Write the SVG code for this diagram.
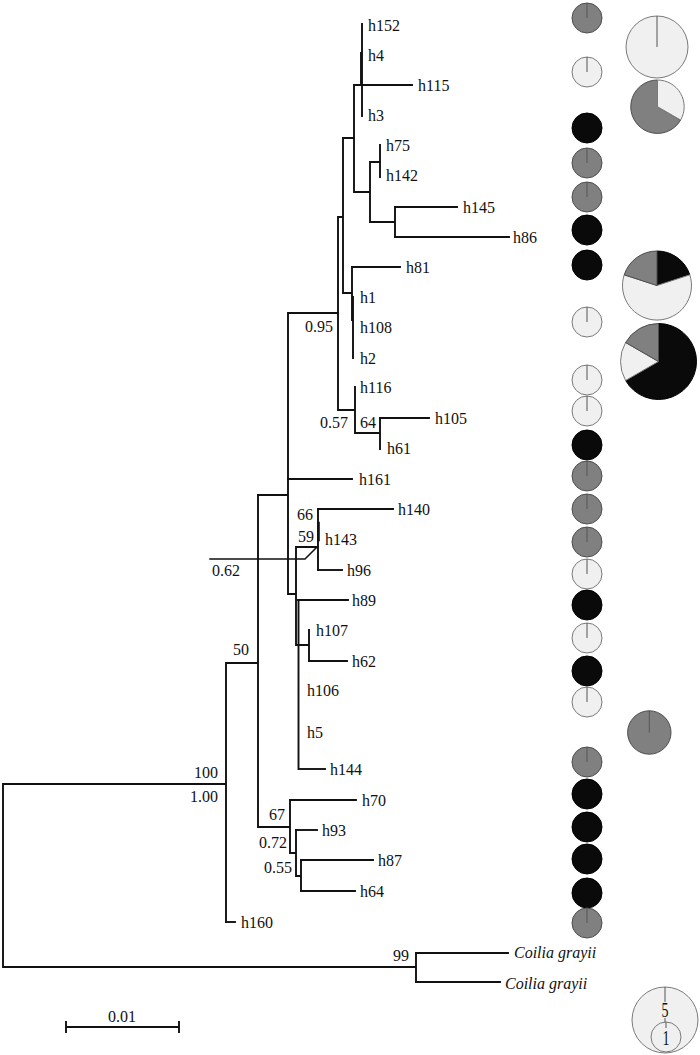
<svg xmlns="http://www.w3.org/2000/svg" width="700" height="1055" viewBox="0 0 700 1055">
<style>
.br{stroke:#111;stroke-width:1.9;fill:none;stroke-linecap:square}
.lb{font-family:"Liberation Serif","Times New Roman",serif;font-size:16px;fill:#111}
.it{font-style:italic}
.end{text-anchor:end}
.lg{font-family:"Liberation Serif","Times New Roman",serif;font-size:20px;fill:#111;text-anchor:middle}
.pg{fill:#808080;stroke:#4d4d4d;stroke-width:1}
.pl{fill:#f0f0f0;stroke:#7a7a7a;stroke-width:1}
.pk{fill:#0a0a0a;stroke:#000;stroke-width:1}
.rl{stroke:#555;stroke-width:1;fill:none}
</style>
<rect width="700" height="1055" fill="#fff"/>
<g id="connectors" class="br">
<path d="M362,24V116M361,53V85M354,85H362M354,85V192M354,192H370M370,162V222M370,162H380M380,145V177M370,222H395M395,207V237"/>
<path d="M343,138H354M343,138V293M338,217H343M338,217V410M343,293H352M352,267V320M353,297V358M338,410H355M355,387V433M355,433H380M380,418V449"/>
<path d="M288,313H338M288,313V594M258,495H288M288,594H296M296,547V645M296,547H318M318,509V570M298.5,600V769M296,645H309M309,630V661"/>
<path d="M258,495V827M226,663H258M226,663V922M3,784H226M3,784V967M3,967H416M416,953V982M258,827H290M290,800V853M290,853H296M296,830V876M296,876H301M301,860V891"/>
<path d="M318.5,523V540" stroke-width="2.6"/>
<path d="M210,559H305L317,547" stroke-width="1.5"/>
</g>
<g id="support" class="lb">
<text x="333" y="332" class="end">0.95</text>
<text x="348" y="428" class="end">0.57</text>
<text x="360" y="428">64</text>
<text x="297" y="520">66</text>
<text x="298" y="542">59</text>
<text x="212" y="576">0.62</text>
<text x="233" y="655">50</text>
<text x="218" y="778" class="end">100</text>
<text x="218" y="802" class="end">1.00</text>
<text x="285" y="820" class="end">67</text>
<text x="287" y="848" class="end">0.72</text>
<text x="292" y="873" class="end">0.55</text>
<text x="409" y="961" class="end">99</text>
</g>
<g id="h152"><text class="lb" x="368" y="30.5">h152</text></g>
<g id="h4"><text class="lb" x="368" y="60.5">h4</text></g>
<g id="h115"><path class="br" d="M362,85H412"/><text class="lb" x="418" y="90.5">h115</text></g>
<g id="h3"><text class="lb" x="368" y="120.5">h3</text></g>
<g id="h75"><text class="lb" x="386" y="150.5">h75</text></g>
<g id="h142"><text class="lb" x="386" y="180.5">h142</text></g>
<g id="h145"><path class="br" d="M395,207H457"/><text class="lb" x="463" y="212.5">h145</text></g>
<g id="h86"><path class="br" d="M395,237H509"/><text class="lb" x="513" y="242.5">h86</text></g>
<g id="h81"><path class="br" d="M352,267H400"/><text class="lb" x="406" y="272.5">h81</text></g>
<g id="h1"><text class="lb" x="360" y="302.5">h1</text></g>
<g id="h108"><text class="lb" x="360" y="332.5">h108</text></g>
<g id="h2"><text class="lb" x="360" y="363.5">h2</text></g>
<g id="h116"><text class="lb" x="360" y="392.5">h116</text></g>
<g id="h105"><path class="br" d="M380,418H429"/><text class="lb" x="435" y="423.5">h105</text></g>
<g id="h61"><text class="lb" x="387" y="453.5">h61</text></g>
<g id="h161"><path class="br" d="M288,479H352"/><text class="lb" x="359" y="484.5">h161</text></g>
<g id="h140"><path class="br" d="M318,509H393"/><text class="lb" x="398" y="514.5">h140</text></g>
<g id="h143"><text class="lb" x="325" y="544.5">h143</text></g>
<g id="h96"><path class="br" d="M318,570H342"/><text class="lb" x="347" y="575.5">h96</text></g>
<g id="h89"><path class="br" d="M298,600H348"/><text class="lb" x="352" y="605.5">h89</text></g>
<g id="h107"><text class="lb" x="316" y="635.5">h107</text></g>
<g id="h62"><path class="br" d="M309,661H347"/><text class="lb" x="352" y="666.5">h62</text></g>
<g id="h106"><text class="lb" x="307" y="695.5">h106</text></g>
<g id="h5"><text class="lb" x="307" y="737.5">h5</text></g>
<g id="h144"><path class="br" d="M300,769H325"/><text class="lb" x="330" y="774.5">h144</text></g>
<g id="h70"><path class="br" d="M290,800H356"/><text class="lb" x="362" y="805.5">h70</text></g>
<g id="h93"><path class="br" d="M296,830H317"/><text class="lb" x="322" y="835.5">h93</text></g>
<g id="h87"><path class="br" d="M301,860H373"/><text class="lb" x="378" y="865.5">h87</text></g>
<g id="h64"><path class="br" d="M301,891H355"/><text class="lb" x="360" y="896.5">h64</text></g>
<g id="h160"><path class="br" d="M226,922H235"/><text class="lb" x="241" y="927.5">h160</text></g>
<g id="coilia1"><path class="br" d="M416,953H508"/><text class="lb it" x="514" y="957.5">Coilia grayii</text></g>
<g id="coilia2"><path class="br" d="M416,982H500"/><text class="lb it" x="505" y="988.5">Coilia grayii</text></g>
<g id="scalebar"><path class="br" d="M66,1027H179M66,1022V1032M179,1022V1032"/><text class="lb" x="122" y="1021.5" text-anchor="middle">0.01</text></g>
<g id="pies-small">
<circle class="pg" cx="587" cy="18" r="15"/><path class="rl" d="M587,3V18"/>
<circle class="pl" cx="587" cy="72" r="15"/><path class="rl" d="M587,57V72"/>
<circle class="pk" cx="587" cy="128" r="15"/>
<circle class="pg" cx="587" cy="163" r="15"/><path class="rl" d="M587,148V163"/>
<circle class="pg" cx="587" cy="197" r="15"/><path class="rl" d="M587,182V197"/>
<circle class="pk" cx="587" cy="230" r="15"/>
<circle class="pk" cx="587" cy="265" r="15"/>
<circle class="pl" cx="587" cy="322" r="15"/><path class="rl" d="M587,307V322"/>
<circle class="pl" cx="587" cy="380" r="15"/><path class="rl" d="M587,365V380"/>
<circle class="pl" cx="587" cy="411" r="15"/><path class="rl" d="M587,396V411"/>
<circle class="pk" cx="587" cy="445" r="15"/>
<circle class="pg" cx="587" cy="476" r="15"/><path class="rl" d="M587,461V476"/>
<circle class="pg" cx="587" cy="509" r="15"/><path class="rl" d="M587,494V509"/>
<circle class="pg" cx="587" cy="542" r="15"/><path class="rl" d="M587,527V542"/>
<circle class="pl" cx="587" cy="574" r="15"/><path class="rl" d="M587,559V574"/>
<circle class="pk" cx="587" cy="605" r="15"/>
<circle class="pl" cx="587" cy="638" r="15"/><path class="rl" d="M587,623V638"/>
<circle class="pk" cx="587" cy="671" r="15"/>
<circle class="pl" cx="587" cy="702" r="15"/><path class="rl" d="M587,687V702"/>
<circle class="pg" cx="587" cy="762" r="15"/><path class="rl" d="M587,747V762"/>
<circle class="pk" cx="587" cy="794" r="15"/>
<circle class="pk" cx="587" cy="827" r="15"/>
<circle class="pk" cx="587" cy="859" r="15"/>
<circle class="pk" cx="587" cy="893" r="15"/>
<circle class="pg" cx="587" cy="923" r="15"/><path class="rl" d="M587,908V923"/>
</g>
<g id="pies-large">
<circle class="pl" cx="657" cy="47" r="31"/><path class="rl" d="M657,16V47"/>
<path class="pg" d="M657.5,106.7L680.6,120.05A26.7,26.7 0 1 1 657.5,80Z"/>
<path class="pl" d="M657.5,106.7L657.5,80A26.7,26.7 0 0 1 680.6,120.05Z"/>
<path class="pk" d="M657,285.5L657,251A34.5,34.5 0 0 1 689.8,274.84Z"/>
<path class="pl" d="M657,285.5L689.8,274.84A34.5,34.5 0 1 1 624.2,274.84Z"/>
<path class="pg" d="M657,285.5L624.2,274.84A34.5,34.5 0 0 1 657,251Z"/>
<path class="pk" d="M658.5,361.5L658.5,323.5A38,38 0 1 1 625.6,380.5Z"/>
<path class="pl" d="M658.5,361.5L625.6,380.5A38,38 0 0 1 625.6,342.5Z"/>
<path class="pg" d="M658.5,361.5L625.6,342.5A38,38 0 0 1 658.5,323.5Z"/>
<circle class="pg" cx="649.3" cy="732.5" r="21.7"/><path class="rl" d="M649.3,710.8V732.5"/>
</g>
<g id="legend">
<circle class="pl" cx="665" cy="1020" r="33"/>
<circle class="pl" cx="666" cy="1037" r="15"/>
<path class="rl" d="M665,987V1002M665,1018V1022M666,1022V1028"/>
<text class="lg" transform="translate(665,1017) scale(0.7,1)">5</text>
<text class="lg" transform="translate(666,1045) scale(0.7,1)">1</text>
</g>
</svg>
